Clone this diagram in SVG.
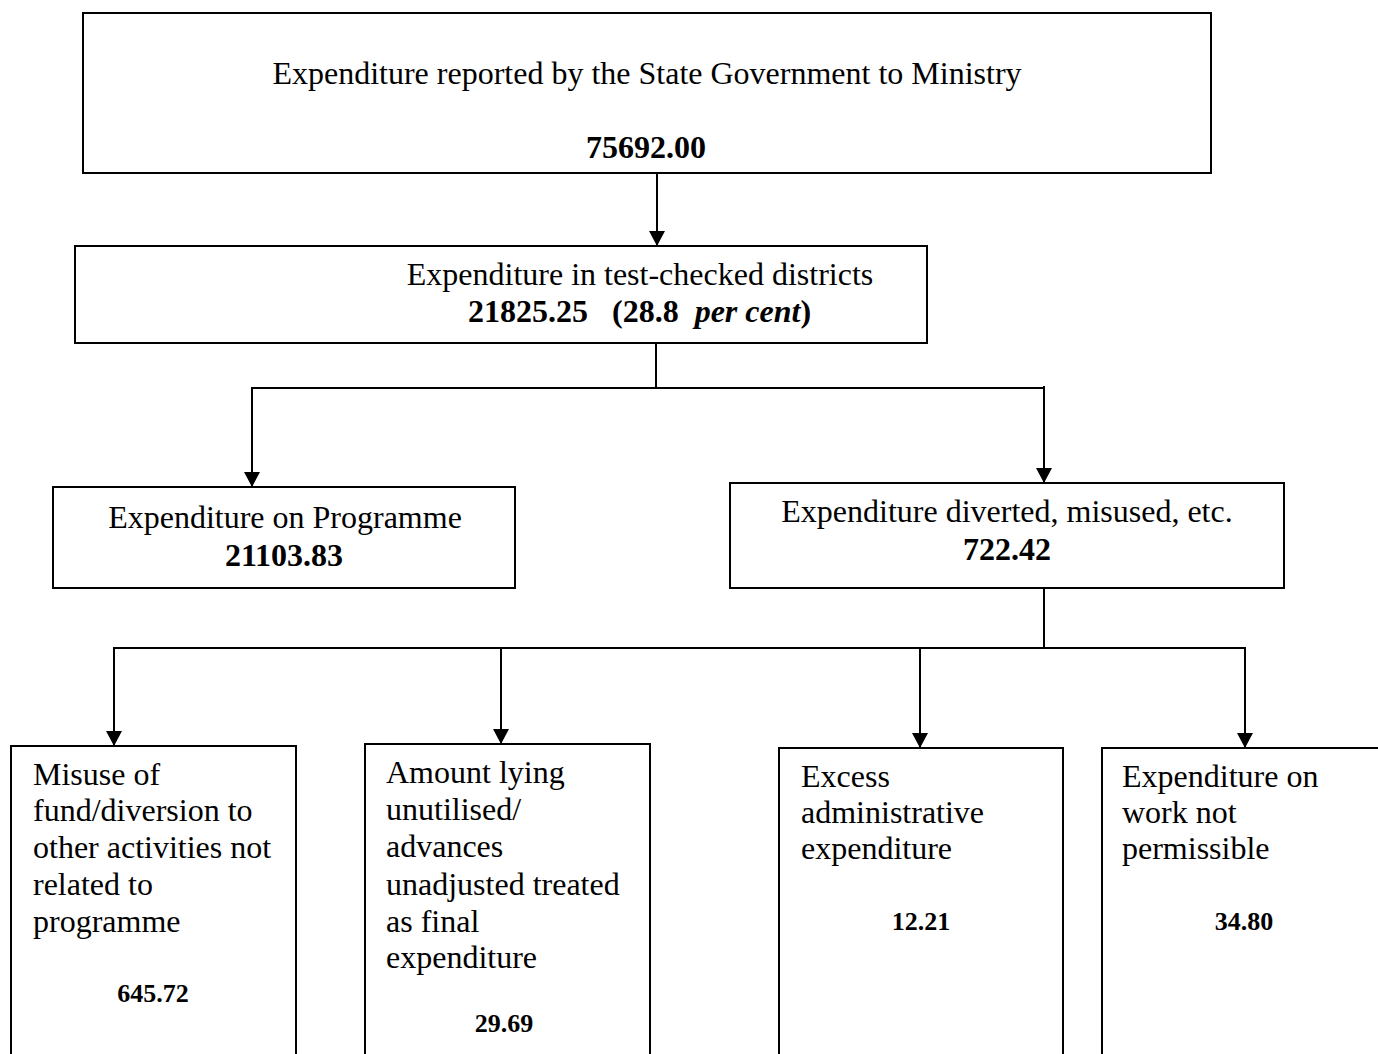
<svg xmlns="http://www.w3.org/2000/svg" width="1378" height="1054" viewBox="0 0 1378 1054">
<defs>
<style>
.box{fill:#fff;stroke:#000;stroke-width:2}
.t{font-family:"Liberation Serif","Times New Roman",serif;font-size:32px;fill:#000}
.b{font-weight:bold}
.n{font-family:"Liberation Serif","Times New Roman",serif;font-size:26px;font-weight:bold;fill:#000}
.c{text-anchor:middle}
.ln{fill:none;stroke:#000;stroke-width:2}
</style>
<marker id="ah" markerUnits="userSpaceOnUse" markerWidth="16" markerHeight="16" viewBox="0 0 16 16" refX="15" refY="8" orient="auto">
<path d="M0,0 L15,8 L0,16 Z" fill="#000"/>
</marker>
</defs>
<rect width="1378" height="1054" fill="#fff"/>

<g id="connectors">
<line class="ln" x1="657" y1="173" x2="657" y2="246" marker-end="url(#ah)"/>
<line class="ln" x1="656" y1="343" x2="656" y2="388"/>
<line class="ln" x1="251" y1="388" x2="1044" y2="388"/>
<line class="ln" x1="252" y1="388" x2="252" y2="487" marker-end="url(#ah)"/>
<line class="ln" x1="1044" y1="386" x2="1044" y2="483" marker-end="url(#ah)"/>
<line class="ln" x1="1044" y1="587" x2="1044" y2="648"/>
<line class="ln" x1="113" y1="648" x2="1246" y2="648"/>
<line class="ln" x1="114" y1="648" x2="114" y2="746" marker-end="url(#ah)"/>
<line class="ln" x1="501" y1="648" x2="501" y2="744" marker-end="url(#ah)"/>
<line class="ln" x1="920" y1="648" x2="920" y2="748" marker-end="url(#ah)"/>
<line class="ln" x1="1245" y1="648" x2="1245" y2="748" marker-end="url(#ah)"/>
</g>

<g id="n-top">
<rect class="box" x="83" y="13" width="1128" height="160"/>
<text class="t c" x="647" y="84">Expenditure reported by the State Government to Ministry</text>
<text class="t b c" x="646" y="158">75692.00</text>
</g>

<g id="n-test">
<rect class="box" x="75" y="246" width="852" height="97"/>
<text class="t c" x="640" y="285">Expenditure in test-checked districts</text>
<text class="t b" x="468" y="322" xml:space="preserve">21825.25   (28.8  <tspan font-style="italic">per cent</tspan>)</text>
</g>

<g id="n-programme">
<rect class="box" x="53" y="487" width="462" height="101"/>
<text class="t c" x="285" y="528">Expenditure on Programme</text>
<text class="t b c" x="284" y="566">21103.83</text>
</g>

<g id="n-diverted">
<rect class="box" x="730" y="483" width="554" height="105"/>
<text class="t c" x="1007" y="522">Expenditure diverted, misused, etc.</text>
<text class="t b c" x="1007" y="560">722.42</text>
</g>

<g id="n-misuse">
<rect class="box" x="11" y="746" width="285" height="330"/>
<text class="t" x="33" y="785">Misuse of</text>
<text class="t" x="33" y="821">fund/diversion to</text>
<text class="t" x="33" y="858">other activities not</text>
<text class="t" x="33" y="895">related to</text>
<text class="t" x="33" y="932">programme</text>
<text class="n c" x="153" y="1002">645.72</text>
</g>

<g id="n-unutilised">
<rect class="box" x="365" y="744" width="285" height="330"/>
<text class="t" x="386" y="783">Amount lying</text>
<text class="t" x="386" y="820">unutilised/</text>
<text class="t" x="386" y="857">advances</text>
<text class="t" x="386" y="895">unadjusted treated</text>
<text class="t" x="386" y="932">as final</text>
<text class="t" x="386" y="968">expenditure</text>
<text class="n c" x="504" y="1032">29.69</text>
</g>

<g id="n-admin">
<rect class="box" x="779" y="748" width="284" height="330"/>
<text class="t" x="801" y="787">Excess</text>
<text class="t" x="801" y="823">administrative</text>
<text class="t" x="801" y="859">expenditure</text>
<text class="n c" x="921" y="930">12.21</text>
</g>

<g id="n-work">
<rect class="box" x="1102" y="748" width="300" height="330"/>
<text class="t" x="1122" y="787">Expenditure on</text>
<text class="t" x="1122" y="823">work not</text>
<text class="t" x="1122" y="859">permissible</text>
<text class="n c" x="1244" y="930">34.80</text>
</g>
</svg>
